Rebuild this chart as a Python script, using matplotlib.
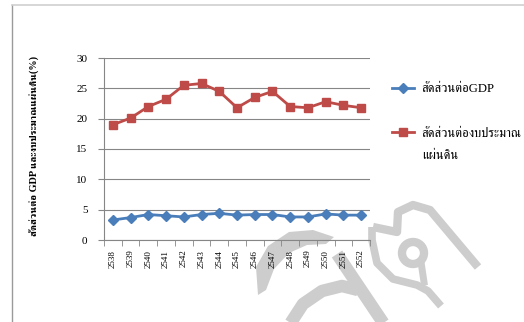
import matplotlib
matplotlib.use('Agg')
import matplotlib.pyplot as plt
from matplotlib.patches import Polygon, Circle
from matplotlib.lines import Line2D

# ข้อมูล (อ่านจากกราฟ)
years = ['2538', '2539', '2540', '2541', '2542', '2543', '2544', '2545',
         '2546', '2547', '2548', '2549', '2550', '2551', '2552']
gdp_ratio = [3.3, 3.7, 4.2, 4.0, 3.8, 4.2, 4.4, 4.1, 4.2, 4.2, 3.8, 3.8, 4.3, 4.1, 4.1]
budget_ratio = [19.0, 20.1, 22.0, 23.2, 25.5, 25.8, 24.5, 21.8, 23.5, 24.5, 22.0, 21.8, 22.8, 22.2, 21.8]
label_gdp = 'สัดส่วนต่อGDP'
label_budget = ['สัดส่วนต่องบประมาณ', 'แผ่นดิน']  # ขึ้นบรรทัดใหม่แบบในต้นฉบับ
ylabel = 'สัดส่วนต่อ GDP และงบประมาณแผ่นดิน(%)'

plt.rcParams['font.family'] = ['Liberation Serif', 'FreeSerif']

W, H = 524, 322
fig = plt.figure(figsize=(W / 100, H / 100), dpi=100)

# ลายน้ำสีเทาด้านหลัง (พิกัดเป็นพิกเซล)
bg = fig.add_axes([0, 0, 1, 1], zorder=0)
bg.set_xlim(0, W)
bg.set_ylim(H, 0)
bg.axis('off')
wm = '#cdcdcd'
outer = [(258, 295), (256, 267), (268, 246), (289, 232), (313, 230), (334, 237)]
inner = [(334, 237), (326, 244), (307, 245), (289, 253), (274, 269), (266, 290)]
bg.add_patch(Polygon(outer + inner, closed=True, color=wm, lw=0))
bg.plot([290, 303, 322, 342, 358], [324, 304, 291, 286, 290], color=wm, lw=9, solid_capstyle='butt')
bg.plot([337, 384], [254, 324], color=wm, lw=9, solid_capstyle='butt')
bg.plot([373, 397, 398, 413, 430, 478], [227, 232, 212, 205, 210, 267], color=wm, lw=6,
        solid_joinstyle='round', solid_capstyle='butt')
bg.plot([372, 372, 377, 393, 417, 428, 441], [227, 240, 263, 279, 285, 291, 306], color=wm, lw=5.5,
        solid_capstyle='butt')
bg.add_patch(Circle((413, 253), 11, fill=False, ec=wm, lw=6))
bg.plot([421, 424], [262, 282], color=wm, lw=5)

# กรอบรอบภาพ
fig.add_artist(Line2D([12 / W, 12 / W], [0, 1 - 5 / H], color='#9a9a9a', lw=1))
fig.add_artist(Line2D([12 / W, 1], [1 - 5 / H, 1 - 5 / H], color='#cfcfcf', lw=1.2))

ax = fig.add_axes([104 / W, 1 - 240 / H, (370 - 104) / W, (240 - 58) / H], zorder=1)
ax.patch.set_alpha(0)
x = list(range(len(years)))
ax.plot(x, gdp_ratio, color='#4a7ebb', lw=2, marker='D', ms=5, label=label_gdp)
ax.plot(x, budget_ratio, color='#be4b48', lw=2, marker='s', ms=6.2, label=label_budget[0])

ax.set_xlim(-0.5, len(years) - 0.5)
ax.set_ylim(0, 30)
ax.set_yticks(range(0, 31, 5))
ax.set_xticks(x)
ax.set_xticklabels(years, rotation=90, fontsize=6.5)
ax.set_xticks([i - 0.5 for i in range(len(years) + 1)], minor=True)
ax.tick_params(axis='x', which='major', length=0, pad=7)
ax.tick_params(axis='x', which='minor', length=4, color='#868686')
ax.tick_params(axis='y', length=4, color='#868686', pad=8, labelsize=8)
ax.grid(axis='y', color='#868686', lw=0.8)
ax.set_axisbelow(True)
for s in ['top', 'right']:
    ax.spines[s].set_visible(False)
for s in ['left', 'bottom']:
    ax.spines[s].set_color('#868686')

fig.text(35 / W, 1 - 146 / H, ylabel, rotation=90, ha='center', va='center',
         fontsize=7.4, fontweight='bold')

fig.legend(loc='upper left', bbox_to_anchor=(392 / W, 1 - 83 / H), frameon=False,
           fontsize=9.2, handlelength=1.7, handletextpad=0.55, labelspacing=2.55,
           borderpad=0, borderaxespad=0)
fig.text(422 / W, 1 - 156 / H, label_budget[1], fontsize=9.2, va='center')

fig.savefig('out.png')
